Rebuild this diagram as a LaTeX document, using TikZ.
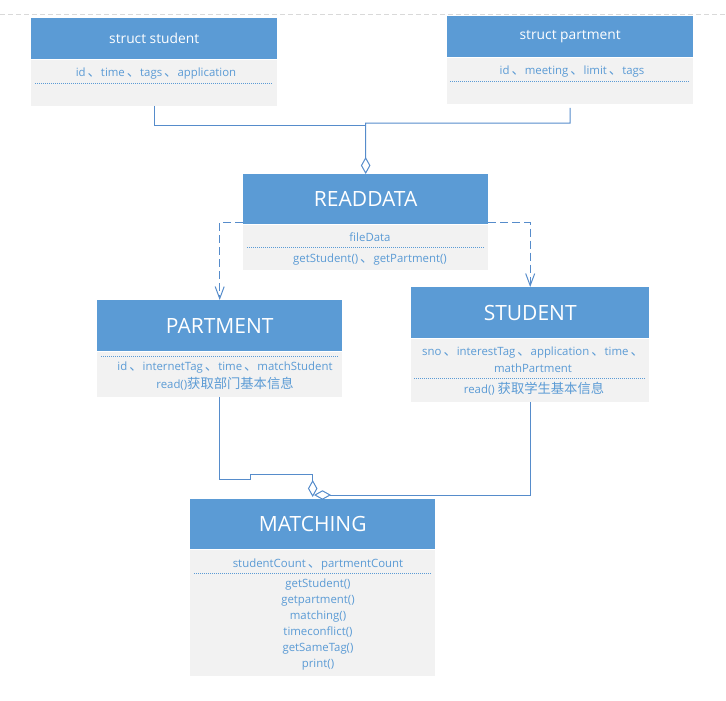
\documentclass[tikz,border=0pt]{standalone}
\usepackage{fontspec}
\setmainfont{Open Sans}
\newfontfamily\cjk{Noto Sans CJK SC}
\usepackage{tikz}
\usetikzlibrary{arrows.meta}
\definecolor{headblue}{RGB}{91,155,213}
\definecolor{bodygray}{RGB}{242,242,242}
\definecolor{lineblue}{RGB}{86,140,203}
\tikzset{head/.style = {fill=headblue, text=white, anchor=north west, inner sep=0pt, font=\fontsize{21}{24}\selectfont}}
\tikzset{structhead/.style = {head, font=\fontsize{13.8}{16}\selectfont}}
\tikzset{body/.style = {fill=bodygray, anchor=north west, inner sep=0pt}}
\tikzset{member/.style = {text=headblue, inner sep=0pt, align=center, font=\fontsize{11.4}{17}\selectfont}}
\tikzset{dotline/.style = {draw=headblue, line width=0.7pt, dash pattern=on 1pt off 1pt}}
\tikzset{link/.style = {draw=lineblue, line width=1pt}}
\tikzset{agg/.style = {link, -{Diamond[open, length=17pt, width=9.5pt]}}}
\tikzset{dep/.style = {link, dash pattern=on 8pt off 4pt, -{Straight Barb[length=12pt, width=9pt]}}}
\newcommand{\dun}{\kern2pt{\cjk\fontsize{13.3}{17}\selectfont 、}}
\newcommand{\zh}[1]{{\cjk\fontsize{13.3}{17}\selectfont #1}}

\begin{document}
\begin{tikzpicture}[x=1pt, y=-1pt]
    \useasboundingbox (0,0) rectangle (726,701);
    \draw[black!15, line width=1pt, dash pattern=on 5pt off 3pt] (0,15) -- (726,15);

    % Boxes
    \node[structhead, minimum width=246pt, minimum height=41pt] (sstu) at (31,18) {struct student};
    \node[body, minimum width=246pt, minimum height=46pt] (sstub) at (sstu.south west) {};
    \node[structhead, minimum width=246pt, minimum height=41pt] (spart) at (447,16) {struct partment};
    \node[body, minimum width=246pt, minimum height=46pt] (spartb) at (spart.south west) {};
    \node[head, minimum width=245pt, minimum height=50pt] (rdata) at (243,174) {READDATA};
    \node[body, minimum width=245pt, minimum height=45pt] (rdatab) at (rdata.south west) {};
    \node[head, minimum width=245pt, minimum height=51pt] (part) at (97,300) {PARTMENT};
    \node[body, minimum width=245pt, minimum height=45pt] (partb) at (part.south west) {};
    \node[head, minimum width=238pt, minimum height=51pt] (stu) at (411,287) {STUDENT};
    \node[body, minimum width=238pt, minimum height=63pt] (stub) at (stu.south west) {};
    \node[head, minimum width=245pt, minimum height=50pt] (match) at (190,499) {MATCHING};
    \node[body, minimum width=245pt, minimum height=126pt] (matchb) at (match.south west) {};

    % Members
    \node[member] (sstum) at (156,73.5) {id\dun time\dun tags\dun application};
    \draw[dotline] (35,83) -- (273,83);
    \node[member] (sparm) at (572,71.5) {id\dun meeting\dun limit\dun tags};
    \draw[dotline] (450,81) -- (689,81);

    \node[member] (rdatam) at (370,237) {fileData};
    \draw[dotline] (247,247) -- (485,247);
    \node[member] (rdataf) at (370,259.5) {getStudent()\dun getPartment()};

    \draw[dotline] (101,356) -- (338,356);
    \node[member] (partm) at (225,368) {id\dun internetTag\dun time\dun matchStudent};
    \node[member] (partf) at (225,384) {read()\zh{获取部门基本信息}};

    \node[member] (stum) at (533,360) {sno\dun interestTag\dun application\dun time\dun\\mathPartment};
    \draw[dotline] (414,378) -- (645,378);
    \node[member] (stuf) at (534,389) {read() \zh{获取学生基本信息}};

    \node[member] (matchm) at (318,564.5) {studentCount\dun partmentCount};
    \draw[dotline] (194,573) -- (432,573);
    \node[member, font=\fontsize{11.4}{16}\selectfont] (matchf) at (318,625)
        {getStudent()\\getpartment()\\matching()\\timeconflict()\\getSameTag()\\print()};

    % Connectors
    \coordinate (jn) at (365.5,123);
    \draw[link] (sstub.south) |- ([yshift=-2pt]jn);
    \draw[agg] ([yshift=-4pt]spartb.south) |- (jn) -- (rdata.north);

    \draw[dep] ([yshift=2pt]rdata.south west) -| (part.north);
    \draw[dep] ([yshift=2pt]rdata.south east) -| (stu.north);

    \coordinate (mtup) at ([yshift=25pt]match.north);
    \coordinate (mtin) at (314,495);
    \draw[agg] (partb.south) |- (250,479) |- (mtup) -- ([yshift=2pt]match.north);
    \draw[agg] (stub.south) |- (mtin);
\end{tikzpicture}
\end{document}
